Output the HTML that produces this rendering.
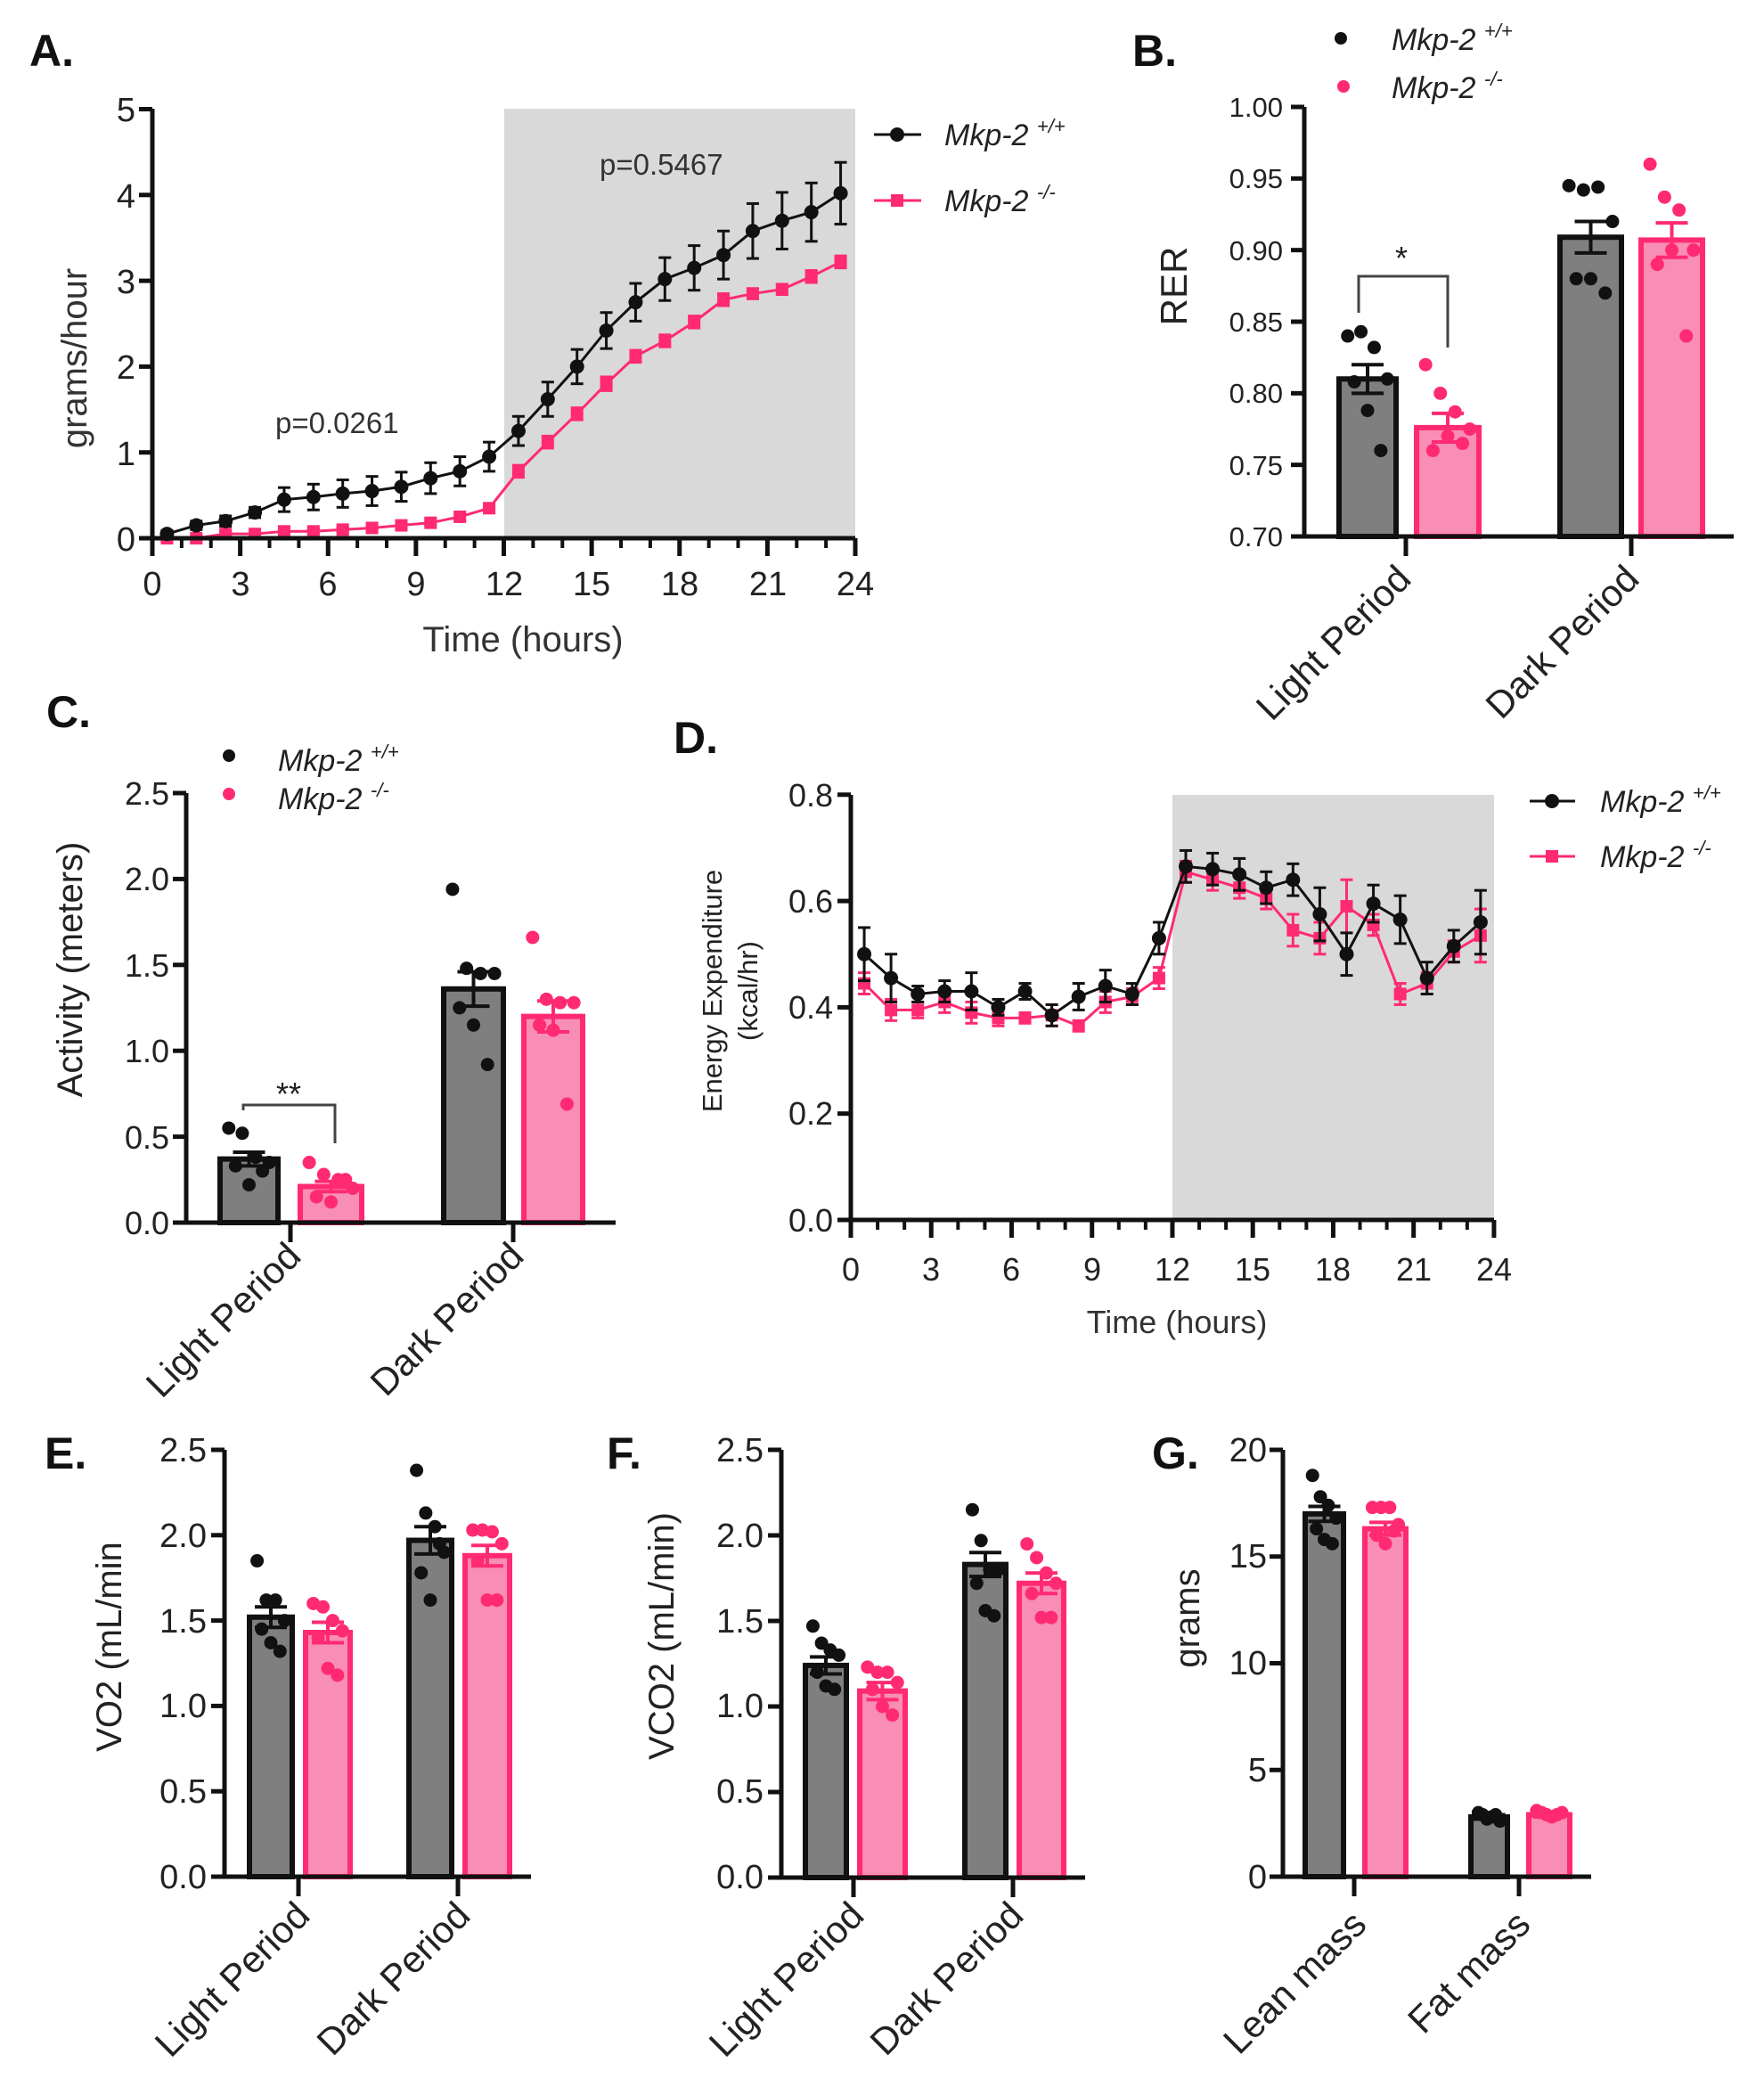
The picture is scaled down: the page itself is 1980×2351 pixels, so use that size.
<!DOCTYPE html>
<html><head><meta charset="utf-8"><style>
body{margin:0;background:#fff}
svg{display:block}
text{font-family:"Liberation Sans",Arial,sans-serif;fill:#222}
.t{fill:#333}
.lbl{font-weight:bold;font-size:50px;fill:#111}
.it{font-style:italic}
</style></head><body>
<svg id="s" xmlns="http://www.w3.org/2000/svg" width="1980" height="2351" viewBox="0 0 1980 2351">
<rect width="1980" height="2351" fill="#fff"/>
<!-- Panel A -->
<rect x="566" y="122" width="394" height="482" fill="#d9d9d9"/>
<text class="lbl" x="33" y="74">A.</text>
<g class="t" font-size="38" text-anchor="end">
<text x="152" y="618">0</text><text x="152" y="522">1</text><text x="152" y="425">2</text><text x="152" y="329">3</text><text x="152" y="233">4</text><text x="152" y="136">5</text>
</g>
<g class="t" font-size="38" text-anchor="middle">
<text x="171" y="668">0</text><text x="270" y="668">3</text><text x="368" y="668">6</text><text x="467" y="668">9</text><text x="566" y="668">12</text><text x="664" y="668">15</text><text x="763" y="668">18</text><text x="862" y="668">21</text><text x="960" y="668">24</text>
</g>
<text class="t" x="587" y="731" font-size="40" text-anchor="middle">Time (hours)</text>
<text class="t" x="0" y="0" font-size="40" text-anchor="middle" transform="translate(97,402) rotate(-90)">grams/hour</text>
<text class="t" x="673" y="196" font-size="33">p=0.5467</text>
<text class="t" x="309" y="486" font-size="33">p=0.0261</text>
<line x1="981" y1="151" x2="1034" y2="151" stroke="#111" stroke-width="3"/><circle cx="1007" cy="151" r="8" fill="#111"/>
<text x="1060" y="163" font-size="34" class="it">Mkp-2 <tspan font-size="22" dy="-14">+/+</tspan></text>
<line x1="981" y1="225" x2="1034" y2="225" stroke="#ff2a72" stroke-width="3"/><rect x="1000" y="218" width="14" height="14" fill="#ff2a72"/>
<text x="1060" y="237" font-size="34" class="it">Mkp-2 <tspan font-size="22" dy="-14">-/-</tspan></text>

<!-- Panel B -->
<text class="lbl" x="1271" y="74">B.</text>
<circle cx="1505" cy="43" r="7" fill="#111"/><text x="1562" y="56" font-size="34" class="it">Mkp-2 <tspan font-size="22" dy="-14">+/+</tspan></text>
<circle cx="1508" cy="97" r="7" fill="#ff2a72"/><text x="1562" y="110" font-size="34" class="it">Mkp-2 <tspan font-size="22" dy="-14">-/-</tspan></text>
<g class="t" font-size="31" text-anchor="end">
<text x="1440" y="131">1.00</text><text x="1440" y="211">0.95</text><text x="1440" y="292">0.90</text><text x="1440" y="372">0.85</text><text x="1440" y="452">0.80</text><text x="1440" y="533">0.75</text><text x="1440" y="613">0.70</text>
</g>
<text x="0" y="0" font-size="42" text-anchor="middle" transform="translate(1332,321) rotate(-90)">RER</text>
<text x="0" y="0" font-size="42" text-anchor="end" transform="translate(1586,652) rotate(-45)">Light Period</text>
<text x="0" y="0" font-size="42" text-anchor="end" transform="translate(1842,652) rotate(-45)">Dark Period</text>
<polyline points="1525,351 1525,310 1625,310 1625,390" fill="none" stroke="#444" stroke-width="3"/>
<text x="1573" y="302" font-size="36" text-anchor="middle">*</text>

<!-- Panel C -->
<text class="lbl" x="52" y="816">C.</text>
<circle cx="257" cy="848" r="7" fill="#111"/><text x="312" y="865" font-size="34" class="it">Mkp-2 <tspan font-size="22" dy="-14">+/+</tspan></text>
<circle cx="257" cy="891" r="7" fill="#ff2a72"/><text x="312" y="908" font-size="34" class="it">Mkp-2 <tspan font-size="22" dy="-14">-/-</tspan></text>
<g class="t" font-size="36" text-anchor="end">
<text x="190" y="903">2.5</text><text x="190" y="999">2.0</text><text x="190" y="1096">1.5</text><text x="190" y="1192">1.0</text><text x="190" y="1289">0.5</text><text x="190" y="1385">0.0</text>
</g>
<text x="0" y="0" font-size="40" text-anchor="middle" transform="translate(92,1088) rotate(-90)">Activity (meters)</text>
<text x="0" y="0" font-size="42" text-anchor="end" transform="translate(340,1412) rotate(-45)">Light Period</text>
<text x="0" y="0" font-size="42" text-anchor="end" transform="translate(590,1412) rotate(-45)">Dark Period</text>
<polyline points="273,1246 273,1240 376,1240 376,1283" fill="none" stroke="#444" stroke-width="3"/>
<text x="324" y="1240" font-size="36" text-anchor="middle">**</text>

<!-- Panel D -->
<rect x="1316" y="892" width="361" height="477" fill="#d9d9d9"/>
<text class="lbl" x="756" y="845">D.</text>
<g class="t" font-size="36" text-anchor="end">
<text x="935" y="905">0.8</text><text x="935" y="1024">0.6</text><text x="935" y="1143">0.4</text><text x="935" y="1262">0.2</text><text x="935" y="1382">0.0</text>
</g>
<g class="t" font-size="36" text-anchor="middle">
<text x="955" y="1437">0</text><text x="1045" y="1437">3</text><text x="1135" y="1437">6</text><text x="1226" y="1437">9</text><text x="1316" y="1437">12</text><text x="1406" y="1437">15</text><text x="1496" y="1437">18</text><text x="1587" y="1437">21</text><text x="1677" y="1437">24</text>
</g>
<text class="t" x="1321" y="1496" font-size="36" text-anchor="middle">Time (hours)</text>
<text x="0" y="0" font-size="31" text-anchor="middle" transform="translate(810,1112) rotate(-90)">Energy Expenditure</text>
<text x="0" y="0" font-size="31" text-anchor="middle" transform="translate(850,1112) rotate(-90)">(kcal/hr)</text>
<line x1="1717" y1="899" x2="1768" y2="899" stroke="#111" stroke-width="3"/><circle cx="1742" cy="899" r="8" fill="#111"/>
<text x="1796" y="911" font-size="34" class="it">Mkp-2 <tspan font-size="22" dy="-14">+/+</tspan></text>
<line x1="1717" y1="961" x2="1768" y2="961" stroke="#ff2a72" stroke-width="3"/><rect x="1735" y="954" width="14" height="14" fill="#ff2a72"/>
<text x="1796" y="973" font-size="34" class="it">Mkp-2 <tspan font-size="22" dy="-14">-/-</tspan></text>

<!-- Panel E -->
<text class="lbl" x="50" y="1648">E.</text>
<g class="t" font-size="38" text-anchor="end">
<text x="232" y="1640">2.5</text><text x="232" y="1736">2.0</text><text x="232" y="1832">1.5</text><text x="232" y="1927">1.0</text><text x="232" y="2023">0.5</text><text x="232" y="2119">0.0</text>
</g>
<text x="0" y="0" font-size="40" text-anchor="middle" transform="translate(136,1848) rotate(-90)">VO2 (mL/min</text>
<text x="0" y="0" font-size="42" text-anchor="end" transform="translate(350,2152) rotate(-45)">Light Period</text>
<text x="0" y="0" font-size="42" text-anchor="end" transform="translate(530,2152) rotate(-45)">Dark Period</text>

<!-- Panel F -->
<text class="lbl" x="681" y="1648">F.</text>
<g class="t" font-size="38" text-anchor="end">
<text x="857" y="1640">2.5</text><text x="857" y="1736">2.0</text><text x="857" y="1832">1.5</text><text x="857" y="1927">1.0</text><text x="857" y="2023">0.5</text><text x="857" y="2119">0.0</text>
</g>
<text x="0" y="0" font-size="40" text-anchor="middle" transform="translate(756,1836) rotate(-90)">VCO2 (mL/min)</text>
<text x="0" y="0" font-size="42" text-anchor="end" transform="translate(972,2152) rotate(-45)">Light Period</text>
<text x="0" y="0" font-size="42" text-anchor="end" transform="translate(1151,2152) rotate(-45)">Dark Period</text>

<!-- Panel G -->
<text class="lbl" x="1293" y="1648">G.</text>
<g class="t" font-size="38" text-anchor="end">
<text x="1422" y="1640">20</text><text x="1422" y="1759">15</text><text x="1422" y="1879">10</text><text x="1422" y="1999">5</text><text x="1422" y="2119">0</text>
</g>
<text x="0" y="0" font-size="40" text-anchor="middle" transform="translate(1346,1816) rotate(-90)">grams</text>
<text x="0" y="0" font-size="42" text-anchor="end" transform="translate(1536,2162) rotate(-45)">Lean mass</text>
<text x="0" y="0" font-size="42" text-anchor="end" transform="translate(1720,2162) rotate(-45)">Fat mass</text>
<g id="gen"></g>
</svg>
<script>
(function(){
var o='';var K='#111',P='#ff2a72';
function L(x1,y1,x2,y2,c,w){o+='<line x1="'+x1+'" y1="'+y1+'" x2="'+x2+'" y2="'+y2+'" stroke="'+c+'" stroke-width="'+w+'"/>';}
function C(x,y,r,c){o+='<circle cx="'+x+'" cy="'+y+'" r="'+r+'" fill="'+c+'"/>';}
function S(x,y,s,c){o+='<rect x="'+(x-s/2)+'" y="'+(y-s/2)+'" width="'+s+'" height="'+s+'" fill="'+c+'"/>';}
function lc(X,Y,d,e,c,sq){var p=[];for(var i=0;i<d.length;i++)p.push(X(i+.5)+','+Y(d[i]));
 o+='<polyline points="'+p.join(' ')+'" fill="none" stroke="'+c+'" stroke-width="3"/>';
 for(var i=0;i<d.length;i++){var x=X(i+.5),a=Y(d[i]+e[i]),b=Y(d[i]-e[i]);L(x,a,x,b,c,3);L(x-7,a,x+7,a,c,3);L(x-7,b,x+7,b,c,3);if(sq)S(x,Y(d[i]),14,c);else C(x,Y(d[i]),8,c);}}
function axLine(x0,y0,x1,ytop,nt,X){L(x0,y0,x1,y0,'#111',5);L(x0,ytop,x0,y0+2,'#111',5);
 for(var h=0;h<=24;h++){var x=X(h);L(x,y0,x,y0+(h%3==0?20:11),'#111',h%3==0?5:4);} }
var XA=function(h){return 171+h*32.875},YA=function(v){return 604-v*96.3};
lc(XA,YA,[0,0,.05,.05,.08,.08,.1,.12,.15,.18,.25,.35,.78,1.12,1.45,1.8,2.12,2.3,2.52,2.78,2.85,2.9,3.05,3.22],[.03,.03,.03,.03,.03,.03,.03,.03,.03,.03,.04,.05,.07,.07,.07,.08,.07,.07,.07,.07,.06,.06,.07,.07],P,1);
lc(XA,YA,[.05,.15,.2,.3,.45,.48,.52,.55,.6,.7,.78,.95,1.25,1.62,2,2.42,2.75,3.02,3.15,3.3,3.58,3.7,3.8,4.02],[.04,.05,.06,.06,.14,.15,.16,.17,.17,.18,.17,.17,.17,.2,.2,.21,.22,.25,.26,.28,.32,.33,.34,.36],K,0);
axLine(171,604,960,122,0,XA);
for(var v=0;v<=5;v++)L(156,YA(v),171,YA(v),'#111',5);
var XD=function(h){return 955+h*30.08},YD=function(v){return 1369-v*596.5};
lc(XD,YD,[.445,.395,.395,.41,.39,.38,.38,.385,.365,.41,.42,.455,.655,.64,.625,.605,.545,.53,.59,.555,.425,.445,.505,.535],[.02,.02,.015,.02,.02,.015,.01,.02,.01,.02,.015,.02,.02,.02,.02,.02,.03,.03,.05,.02,.02,.02,.02,.05],P,1);
lc(XD,YD,[.5,.455,.425,.43,.43,.4,.43,.385,.42,.44,.425,.53,.665,.66,.65,.625,.64,.575,.5,.595,.565,.455,.515,.56],[.05,.045,.015,.02,.035,.015,.015,.02,.025,.03,.02,.03,.03,.03,.03,.03,.03,.05,.04,.035,.045,.03,.03,.06],K,0);
axLine(955,1369,1677,892,0,XD);
for(var i=0;i<=4;i++)L(940,YD(i*.2),955,YD(i*.2),'#111',5);
function bc(ax,y0,ytop,xend,Y,ticks,tx,bars){
 bars.forEach(function(b){var pk=b[4]=='p',fill=pk?'#f88db6':'#7f7f7f',st=pk?P:K;
  var yt=Y(b[2]);o+='<rect x="'+b[0]+'" y="'+yt+'" width="'+(b[1]-b[0])+'" height="'+(y0-yt)+'" fill="'+fill+'" stroke="'+st+'" stroke-width="6"/>';
  var cx=(b[0]+b[1])/2,a=Y(b[2]+b[3]),c=Y(b[2]-b[3]);L(cx,a,cx,c,st,4);L(cx-18,a,cx+18,a,st,4);L(cx-18,c,cx+18,c,st,4);
  var pts=b[5],n=pts.length,w=b[1]-b[0];pts.forEach(function(v,i){var x=b[0]+6+(w-12)*((i*37%n)+.5)/n;C(x,Y(v),7.5,pk?P:K);});});
 L(ax,y0,xend,y0,'#111',5);L(ax,ytop,ax,y0+2,'#111',5);
 ticks.forEach(function(v){L(ax-15,Y(v),ax,Y(v),'#111',5)});
 tx.forEach(function(x){L(x,y0,x,y0+22,'#111',5)});}
var YB=function(v){return 602-(v-.7)*1606.7};
bc(1464,602,120,1946,YB,[.7,.75,.8,.85,.9,.95,1],[1578,1831],[
[1503,1567,.81,.01,'k',[.84,.843,.832,.81,.808,.788,.76]],
[1590,1660,.776,.01,'p',[.82,.80,.787,.775,.76,.77,.765]],
[1751,1820,.909,.011,'k',[.945,.942,.944,.92,.88,.88,.87]],
[1842,1911,.907,.012,'p',[.96,.937,.928,.90,.89,.90,.84]]]);
var YC=function(v){return 1372-v*192.8};
bc(209,1372,890,691,YC,[0,.5,1,1.5,2,2.5],[326,576],[
[247,312,.37,.04,'k',[.55,.52,.38,.35,.33,.22,.3]],
[337,406,.21,.03,'p',[.35,.28,.25,.2,.15,.12,.25]],
[498,565,1.36,.1,'k',[1.94,1.48,1.45,1.45,1.25,1.15,.92]],
[588,654,1.2,.09,'p',[1.66,1.3,1.28,1.28,1.15,1.12,.69]]]);
var YE=function(v){return 2106-v*191.6};
bc(252,2106,1627,596,YE,[0,.5,1,1.5,2,2.5],[335,514],[
[280,328,1.52,.06,'k',[1.85,1.62,1.62,1.5,1.45,1.37,1.32]],
[343,393,1.43,.06,'p',[1.6,1.58,1.5,1.44,1.4,1.22,1.18]],
[459,507,1.97,.08,'k',[2.38,2.13,2.05,1.9,1.78,1.62,1.95]],
[522,572,1.88,.06,'p',[2.03,2.03,2.02,1.95,1.85,1.62,1.62]]]);
bc(877,2107,1627,1218,function(v){return 2107-v*192},[0,.5,1,1.5,2,2.5],[958,1137],[
[904,950,1.24,.05,'k',[1.47,1.37,1.33,1.3,1.2,1.12,1.1]],
[965,1016,1.09,.05,'p',[1.23,1.2,1.2,1.14,1.1,1.0,.95]],
[1083,1129,1.83,.07,'k',[2.15,1.97,1.8,1.8,1.72,1.56,1.53]],
[1144,1194,1.72,.06,'p',[1.95,1.87,1.78,1.72,1.66,1.52,1.52]]]);
bc(1440,2106,1627,1786,function(v){return 2106-v*23.95},[0,5,10,15,20],[1520,1705],[
[1465,1508,17,.35,'k',[18.8,17.8,17.4,16.8,16.3,15.8,15.6]],
[1532,1578,16.3,.3,'p',[17.3,17.3,17.3,16.5,16,15.6,16.2]],
[1651,1692,2.8,.1,'k',[3,2.9,2.7,2.8,2.9,2.6]],
[1716,1762,2.9,.1,'p',[3.1,3,2.9,2.8,2.9,3]]]);
document.getElementById('gen').innerHTML=o;
})();
</script>
</body></html>
